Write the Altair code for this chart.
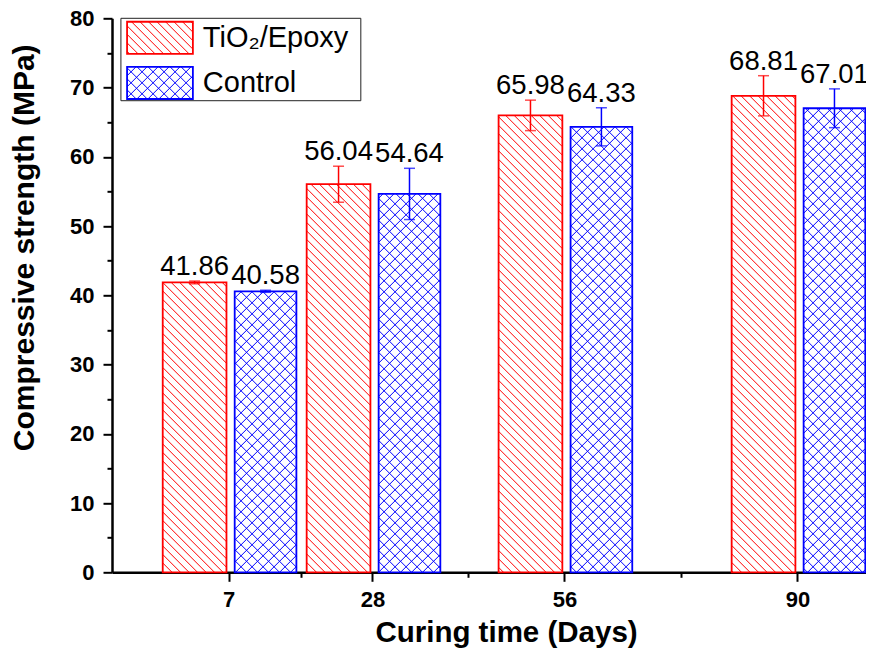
import math
import altair as alt
import pandas as pd

# ---------------- data ----------------
days = [7, 28, 56, 90]
tio2_mean = [41.86, 56.04, 65.98, 68.81]
tio2_err = [0.2, 2.6, 2.2, 2.9]
ctrl_mean = [40.58, 54.64, 64.33, 67.01]
ctrl_err = [0.15, 3.7, 2.75, 2.8]
series_names = ["TiO\u2082/Epoxy", "Control"]
series_colors = ["#FF0000", "#0000FF"]
y_ticks = [0, 10, 20, 30, 40, 50, 60, 70, 80]

# ---------------- layout / style ----------------
W, H = 754, 554
XDOM = [-10, 100]
YDOM = [0, 80]
PX_X = W / (XDOM[1] - XDOM[0])
PX_Y = H / (YDOM[1] - YDOM[0])
R = PX_X / PX_Y  # y units per x unit for a 45 degree line
FONT = "Liberation Sans"

BAR_SPAN = {series_names[0]: (-9.6, -0.3), series_names[1]: (0.9, 9.9)}
HATCH = {series_names[0]: {"dirs": [-1], "step_px": 8.5},
         series_names[1]: {"dirs": [-1, 1], "step_px": 11.0}}

rows = []
for name, means, errs in [(series_names[0], tio2_mean, tio2_err),
                          (series_names[1], ctrl_mean, ctrl_err)]:
    a, b = BAR_SPAN[name]
    for d, m, e in zip(days, means, errs):
        rows.append(dict(series=name, day=d, value=m, err=e,
                         xa=d + a, xb=d + b, xc=d + (a + b) / 2,
                         ya=0.0, yb=m, lo=m - e, hi=m + e))
bars = pd.DataFrame(rows)

# legend layout (data units)
leg_box = pd.DataFrame([dict(xa=-8.7, xb=26.3, ya=68.1, yb=80.0)])
leg_rows = []
for i, s in enumerate(series_names):
    top = 79.5 - i * 6.5
    leg_rows.append(dict(series=s, xa=-7.8, xb=1.8, ya=top - 4.65, yb=top,
                         tx=3.25, ty=top - 3.6))
leg_items = pd.DataFrame(leg_rows)


def hatch_segments(rects):
    out = []
    for r in rects.to_dict("records"):
        spec = HATCH[r["series"]]
        dk = R * spec["step_px"] / PX_X
        for s in spec["dirs"]:
            ks = [r["ya"] - s * R * r["xa"], r["ya"] - s * R * r["xb"],
                  r["yb"] - s * R * r["xa"], r["yb"] - s * R * r["xb"]]
            kmin, kmax = min(ks), max(ks)
            i = math.floor(kmin / dk) + 1
            while i * dk < kmax:
                k = i * dk
                if s < 0:
                    x0 = max(r["xa"], (k - r["yb"]) / R)
                    x1 = min(r["xb"], (k - r["ya"]) / R)
                else:
                    x0 = max(r["xa"], (r["ya"] - k) / R)
                    x1 = min(r["xb"], (r["yb"] - k) / R)
                if x1 > x0:
                    out.append(dict(series=r["series"], hx=x0, hx2=x1,
                                    hy=k + s * R * x0, hy2=k + s * R * x1))
                i += 1
    return pd.DataFrame(out)


bar_hatch = hatch_segments(bars)
leg_hatch = hatch_segments(leg_items)

xs = alt.Scale(domain=XDOM, nice=False, zero=False)
ys = alt.Scale(domain=YDOM, nice=False, zero=False)
cs = alt.Scale(domain=series_names, range=series_colors)

x_major = alt.Axis(values=days, format="d", title="Curing time (Days)",
                   labelFont=FONT, labelFontSize=22, labelFontWeight="bold",
                   labelColor="black", labelPadding=8,
                   titleFont=FONT, titleFontSize=29.5, titleFontWeight="bold",
                   titleColor="black", titleX=394, titleY=69.2,
                   titleBaseline="alphabetic", titleAlign="center",
                   tickSize=9, tickWidth=2, tickColor="black",
                   domainWidth=2.5, domainColor="black", grid=False,
                   orient="bottom")
y_major = alt.Axis(values=y_ticks, format="d", title="Compressive strength (MPa)",
                   labelFont=FONT, labelFontSize=22, labelFontWeight="bold",
                   labelColor="black", labelPadding=9,
                   titleFont=FONT, titleFontSize=30, titleFontWeight="bold",
                   titleColor="black", titleAngle=270, titleX=-88, titleY=229,
                   titleBaseline="middle", titleAlign="center",
                   tickSize=9, tickWidth=2, tickColor="black",
                   domainWidth=2.5, domainColor="black", grid=False,
                   orient="left")
x_minor_vals = [(days[i] + days[i + 1]) / 2 for i in range(len(days) - 1)]
y_minor_vals = [(y_ticks[i] + y_ticks[i + 1]) / 2 for i in range(len(y_ticks) - 1)]
x_minor = alt.Axis(values=x_minor_vals, labels=False, title=None, domain=False,
                   tickSize=5, tickWidth=2, tickColor="black", grid=False,
                   orient="bottom")
y_minor = alt.Axis(values=y_minor_vals, labels=False, title=None, domain=False,
                   tickSize=5, tickWidth=2, tickColor="black", grid=False,
                   orient="left")

bar_layer = alt.Chart(bars).mark_rect(fill="white", strokeWidth=1.8).encode(
    x=alt.X("xa:Q", scale=xs, axis=x_major), x2="xb:Q",
    y=alt.Y("ya:Q", scale=ys, axis=y_major), y2="yb:Q",
    stroke=alt.Stroke("series:N", scale=cs, legend=None),
)

hatch_layer = alt.Chart(bar_hatch).mark_rule(strokeWidth=1).encode(
    x=alt.X("hx:Q", scale=xs, axis=None), x2="hx2:Q",
    y=alt.Y("hy:Q", scale=ys, axis=None), y2="hy2:Q",
    color=alt.Color("series:N", scale=cs, legend=None),
)

err_layer = alt.Chart(bars).mark_rule(strokeWidth=1.5).encode(
    x=alt.X("xc:Q", scale=xs, axis=x_minor),
    y=alt.Y("lo:Q", scale=ys, axis=y_minor), y2="hi:Q",
    color=alt.Color("series:N", scale=cs, legend=None),
)

cap_layer = alt.Chart(bars).transform_fold(["lo", "hi"], as_=["end", "yv"]).mark_tick(
    orient="horizontal", size=11, thickness=1.5).encode(
    x=alt.X("xc:Q", scale=xs, axis=None),
    y=alt.Y("yv:Q", scale=ys, axis=None),
    color=alt.Color("series:N", scale=cs, legend=None),
)

label_layer = alt.Chart(bars).mark_text(
    font=FONT, fontSize=27.5, color="black", baseline="alphabetic", dy=-6).encode(
    x=alt.X("xc:Q", scale=xs, axis=None),
    y=alt.Y("hi:Q", scale=ys, axis=None),
    text=alt.Text("value:Q", format=".2f"),
)

legbox_layer = alt.Chart(leg_box).mark_rect(fill="white", stroke="#222222", strokeWidth=1).encode(
    x=alt.X("xa:Q", scale=xs, axis=None), x2="xb:Q",
    y=alt.Y("ya:Q", scale=ys, axis=None), y2="yb:Q",
)

legsw_layer = alt.Chart(leg_items).mark_rect(fill="white", strokeWidth=1.8).encode(
    x=alt.X("xa:Q", scale=xs, axis=None), x2="xb:Q",
    y=alt.Y("ya:Q", scale=ys, axis=None), y2="yb:Q",
    stroke=alt.Stroke("series:N", scale=cs, legend=None),
)

leghatch_layer = alt.Chart(leg_hatch).mark_rule(strokeWidth=1).encode(
    x=alt.X("hx:Q", scale=xs, axis=None), x2="hx2:Q",
    y=alt.Y("hy:Q", scale=ys, axis=None), y2="hy2:Q",
    color=alt.Color("series:N", scale=cs, legend=None),
)

legtext_layer = alt.Chart(leg_items).mark_text(
    font=FONT, fontSize=29, color="black", align="left", baseline="alphabetic").encode(
    x=alt.X("tx:Q", scale=xs, axis=None),
    y=alt.Y("ty:Q", scale=ys, axis=None),
    text="series:N",
)

chart = alt.layer(
    bar_layer, hatch_layer, err_layer, cap_layer, label_layer,
    legbox_layer, legsw_layer, leghatch_layer, legtext_layer,
).resolve_axis(x="independent", y="independent").properties(
    width=W, height=H,
    autosize=alt.AutoSizeParams(type="none"),
    padding={"left": 104, "top": 10.3, "right": 0, "bottom": 75.7},
    background="white",
).configure_view(stroke=None)

chart.save("out.html", embed_options={"renderer": "svg", "actions": False})
